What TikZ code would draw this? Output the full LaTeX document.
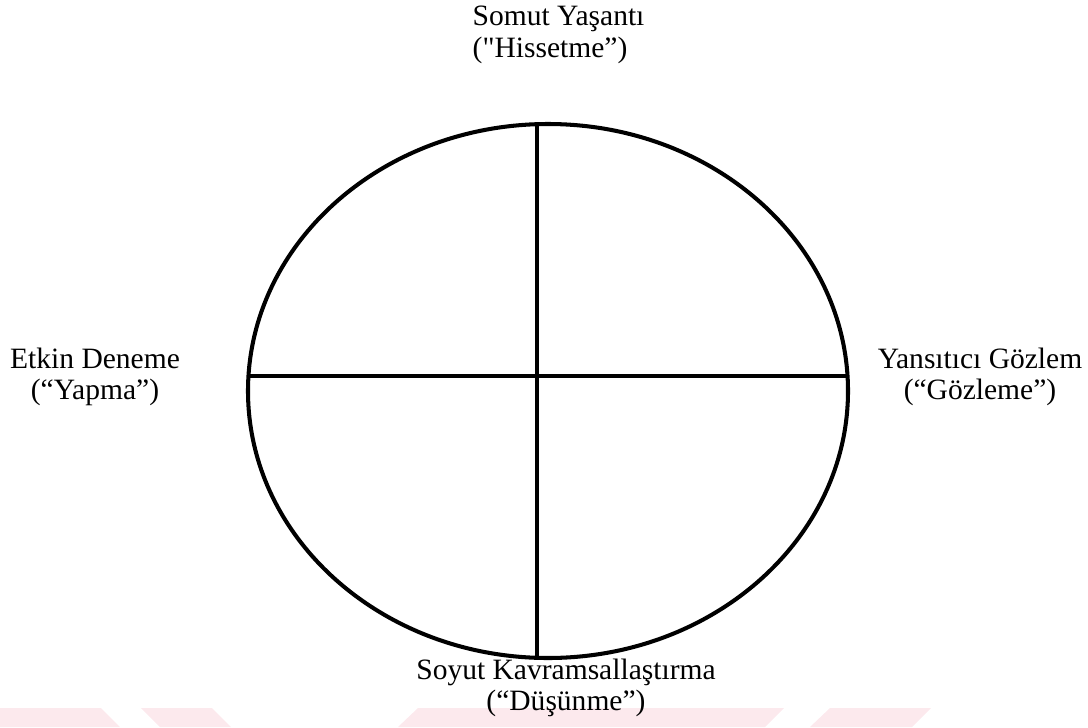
\documentclass[tikz,border=0pt]{standalone}
\usepackage{fontspec}
\setmainfont{Liberation Serif}[Ligatures=TeXOff]
\usepackage{xcolor}
\usetikzlibrary{positioning}
\definecolor{wmpink}{HTML}{FCE9ED}

\begin{document}
\begin{tikzpicture}[font=\fontsize{8.4}{8.9}\selectfont,
  lbl/.style={align=center,inner sep=0pt},
  ring/.style={line width=1.15pt,black},
  axis/.style={line width=0.95pt,black},
  wm/.style={fill=wmpink,draw=none}]
\useasboundingbox (0,0) rectangle (10.88,-7.27);
% faint watermark at the bottom edge
\fill[wm] (0,-7.08) -- (1.01,-7.08) -- (1.20,-7.27) -- (0,-7.27) -- cycle;
\fill[wm] (1.41,-7.08) -- (2.12,-7.08) -- (2.31,-7.27) -- (1.60,-7.27) -- cycle;
\fill[wm] (4.18,-7.08) -- (7.84,-7.08) -- (7.65,-7.27) -- (3.98,-7.27) -- cycle;
\fill[wm] (8.30,-7.08) -- (9.31,-7.08) -- (9.12,-7.27) -- (8.10,-7.27) -- cycle;
% cycle
\coordinate (c) at (5.48,-3.91);
\draw[ring] (c) ellipse [x radius=3.00, y radius=2.67];
\coordinate (top) at (5.37,-1.24);
\coordinate (bot) at (5.37,-6.58);
\coordinate (lft) at (2.485,-3.76);
\coordinate (rgt) at (8.475,-3.76);
\draw[axis] (top) -- (bot);
\draw[axis] (lft) -- (rgt);
% stages
\node[lbl,align=left,anchor=west] (se) at (4.72,-0.35) {Somut Yaşantı\\("Hissetme”)};
\node[lbl] (ae) at (0.95,-3.77) {Etkin Deneme\\(“Yapma”)};
\node[lbl] (ro) at (9.80,-3.77) {Yansıtıcı Gözlem\\(“Gözleme”)};
\node[lbl] (ac) at (5.66,-6.88) {Soyut Kavramsallaştırma\\(“Düşünme”)};
\end{tikzpicture}
\end{document}
